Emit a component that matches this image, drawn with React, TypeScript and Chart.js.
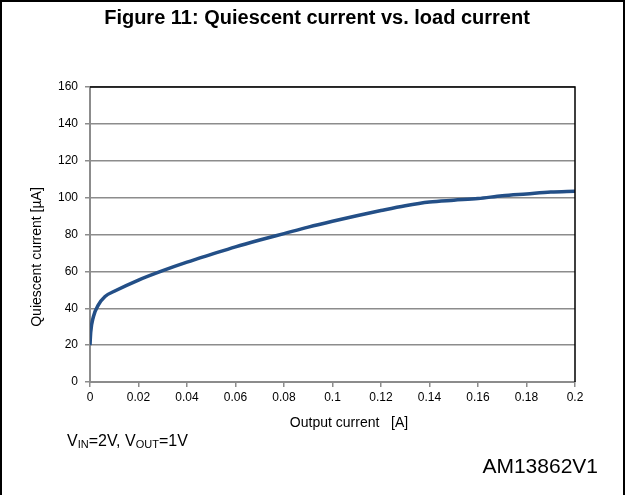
import React, { useEffect, useRef } from "react";
import { Chart, registerables } from "chart.js";

Chart.register(...registerables);

const loadCurrent = [0, 0.0003, 0.0014, 0.0034, 0.0062, 0.01, 0.02, 0.03, 0.04, 0.05, 0.06, 0.07, 0.08, 0.09, 0.1, 0.11, 0.12, 0.13, 0.14, 0.15, 0.16, 0.17, 0.18, 0.19, 0.2];
const quiescent = [20, 27, 35.4, 41.7, 46.4, 49.2, 55.3, 60.4, 65, 69.2, 73.3, 77, 80.5, 84, 87.2, 90.2, 93, 95.6, 97.6, 98.6, 99.5, 101, 102, 103, 103.5];
const xTicks = [0, 0.02, 0.04, 0.06, 0.08, 0.1, 0.12, 0.14, 0.16, 0.18, 0.2];
const yTicks = [0, 20, 40, 60, 80, 100, 120, 140, 160];

const titleText = "Figure 11: Quiescent current vs. load current";
const xTitle = "Output current   [A]";
const yTitle = "Quiescent current [µA]";
const codeText = "AM13862V1";

const FONT = "'Liberation Sans', Arial, sans-serif";

const decor = {
  id: "decor",
  beforeDraw(chart: any) {
    const ctx = chart.ctx;
    ctx.save();
    ctx.fillStyle = "#fff";
    ctx.fillRect(0, 0, chart.width, chart.height);
    ctx.restore();
  },
  afterDraw(chart: any) {
    const ctx = chart.ctx;
    const a = chart.chartArea;
    ctx.save();
    // outer frame
    ctx.strokeStyle = "#000";
    ctx.lineWidth = 2;
    ctx.beginPath();
    ctx.moveTo(1, chart.height);
    ctx.lineTo(1, 1);
    ctx.lineTo(624, 1);
    ctx.lineTo(624, chart.height);
    ctx.stroke();
    // plot top/right border
    ctx.lineWidth = 1.5;
    ctx.beginPath();
    ctx.moveTo(a.left, a.top);
    ctx.lineTo(a.right, a.top);
    ctx.lineTo(a.right, a.bottom);
    ctx.stroke();
    // title
    ctx.fillStyle = "#000";
    ctx.textAlign = "center";
    ctx.textBaseline = "middle";
    ctx.font = `bold 20px ${FONT}`;
    ctx.fillText(titleText, 317, 18);
    // x title
    ctx.font = `14px ${FONT}`;
    ctx.fillText(xTitle, 349, 423);
    // y title
    ctx.save();
    ctx.translate(37, 257);
    ctx.rotate(-Math.PI / 2);
    ctx.fillText(yTitle, 0, 0);
    ctx.restore();
    // conditions
    ctx.textAlign = "left";
    ctx.textBaseline = "alphabetic";
    let x = 67;
    const base = 446;
    const parts: [string, boolean][] = [["V", false], ["IN", true], ["=2V, V", false], ["OUT", true], ["=1V", false]];
    for (const [t, sub] of parts) {
      ctx.font = sub ? `11px ${FONT}` : `16px ${FONT}`;
      ctx.fillText(t, x, sub ? base + 2 : base);
      x += ctx.measureText(t).width;
    }
    // code
    ctx.font = `21px ${FONT}`;
    ctx.textAlign = "right";
    ctx.textBaseline = "middle";
    ctx.fillText(codeText, 598, 467);
    ctx.restore();
  },
};

export default function App() {
  const ref = useRef<HTMLCanvasElement>(null);
  useEffect(() => {
    document.body.style.margin = "0";
    const points = loadCurrent.map((x, i) => ({ x, y: quiescent[i] }));
    const chart = new Chart(ref.current!, {
      type: "line",
      data: {
        datasets: [
          {
            data: points,
            borderColor: "#234f87",
            borderWidth: 3.5,
            pointRadius: 0,
            cubicInterpolationMode: "monotone",
            fill: false,
          },
        ],
      },
      options: {
        animation: false,
        responsive: false,
        devicePixelRatio: 1,
        layout: { padding: { left: 50, right: 52, top: 87, bottom: 83 } },
        plugins: { legend: { display: false }, tooltip: { enabled: false }, title: { display: false } },
        scales: {
          x: {
            type: "linear",
            min: 0,
            max: 0.2,
            afterBuildTicks(axis: any) {
              axis.ticks = xTicks.map((v) => ({ value: v }));
            },
            afterFit(axis: any) {
              axis.height = 30;
            },
            ticks: {
              color: "#000",
              font: { family: FONT, size: 12 },
              padding: 3,
              maxRotation: 0,
              autoSkip: false,
              callback: (v: any) => String(Number(v)),
            },
            grid: { drawOnChartArea: false, drawTicks: true, tickLength: 5, color: "#8c8c8c", lineWidth: 1.5 },
            border: { color: "#8c8c8c", width: 2 },
          },
          y: {
            type: "linear",
            min: 0,
            max: 160,
            afterBuildTicks(axis: any) {
              axis.ticks = yTicks.map((v) => ({ value: v }));
            },
            afterFit(axis: any) {
              axis.width = 40;
            },
            ticks: {
              color: "#000",
              font: { family: FONT, size: 12 },
              padding: 7,
              autoSkip: false,
            },
            grid: { drawOnChartArea: true, drawTicks: true, tickLength: 5, color: "#8c8c8c", lineWidth: 1.5 },
            border: { color: "#8c8c8c", width: 2 },
          },
        },
      },
      plugins: [decor],
    } as any);
    return () => chart.destroy();
  }, []);
  return (
    <div style={{ width: 627, height: 495 }}>
      <canvas ref={ref} width={627} height={495} style={{ display: "block" }} />
    </div>
  );
}
